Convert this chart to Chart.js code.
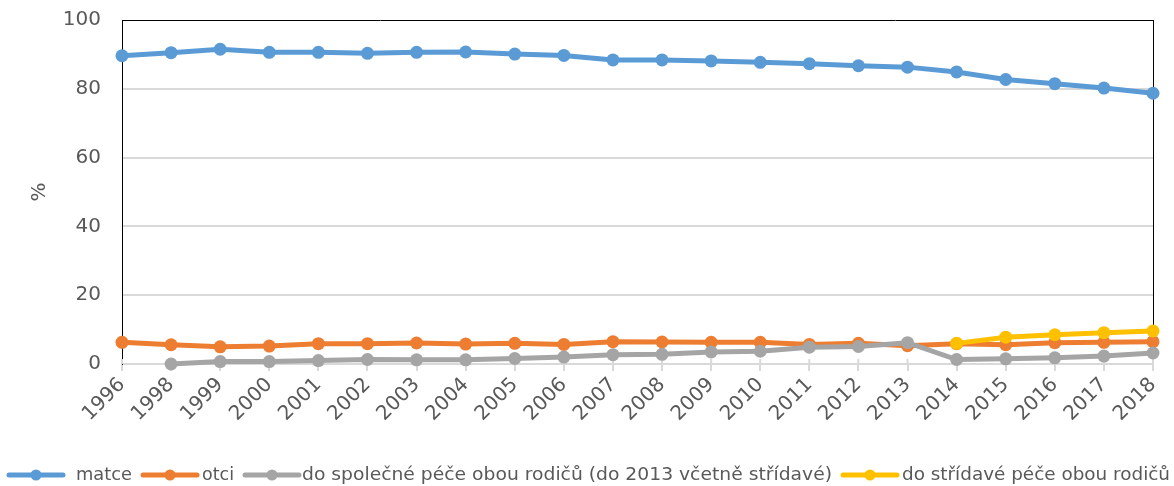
<!DOCTYPE html>
<html>
<head>
<meta charset="utf-8">
<script src="https://cdn.jsdelivr.net/npm/chart.js@4/dist/chart.umd.min.js"></script>
<style>
    html, body { margin: 0; padding: 0; background: #fff; }
    #wrap { width: 1174px; height: 486px; position: relative; }
</style>
</head>
<body>
<div id="wrap"><canvas id="chart"></canvas></div>
<script>
/* ─── Data ──────────────────────────────────────────────────────────────── */

const years = ['1996', '1998', '1999', '2000', '2001', '2002', '2003', '2004', '2005', '2006', '2007',
               '2008', '2009', '2010', '2011', '2012', '2013', '2014', '2015', '2016', '2017', '2018'];

const matce    = [89.6, 90.5, 91.5, 90.6, 90.6, 90.3, 90.6, 90.7, 90.1, 89.7, 88.4,
                  88.4, 88.1, 87.7, 87.3, 86.7, 86.3, 84.9, 82.7, 81.5, 80.2, 78.7];
const otci     = [6.3, 5.6, 5.0, 5.2, 5.9, 5.9, 6.1, 5.8, 6.0, 5.7, 6.5,
                  6.4, 6.3, 6.3, 5.7, 6.0, 5.3, 5.9, 5.6, 6.2, 6.3, 6.5];
const spolecna = [null, 0.0, 0.7, 0.7, 1.0, 1.3, 1.2, 1.2, 1.6, 2.0, 2.7,
                  2.8, 3.5, 3.7, 4.9, 5.1, 6.2, 1.3, 1.5, 1.8, 2.3, 3.2];
const stridava = [null, null, null, null, null, null, null, null, null, null, null,
                  null, null, null, null, null, null, 6.0, 7.8, 8.5, 9.1, 9.6];

const seriesNames = ['matce', 'otci', 'do společné péče obou rodičů (do 2013 včetně střídavé)', 'do střídavé péče obou rodičů'];
const colors = ['#5B9BD5', '#ED7D31', '#A5A5A5', '#FFC000'];

const yMin = 0, yMax = 100, yStep = 20;

/* ─── Helpers ───────────────────────────────────────────────────────────── */

const txt = '#595959';
const grid = '#d9d9d9';
const font = '"DejaVu Sans", Verdana, sans-serif';

function mkDs(i, data, order) {
    return {
        label: seriesNames[i], data, order,
        borderColor: colors[i], backgroundColor: colors[i],
        borderWidth: 5, pointRadius: 6.5, pointBorderWidth: 0,
        tension: 0, clip: false
    };
}

// plot-area frame (right side; left and top come from the scales)
const frame = {
    id: 'frame',
    beforeDatasetsDraw(chart) {
        const { ctx, chartArea: a } = chart;
        ctx.save();
        ctx.strokeStyle = '#000';
        ctx.lineWidth = 1;
        ctx.beginPath();
        ctx.moveTo(a.right + 0.5, a.top);
        ctx.lineTo(a.right + 0.5, a.bottom);
        ctx.stroke();
        // small tick stubs above the zero line, like the original axis
        const x = chart.scales.x;
        ctx.strokeStyle = grid;
        ctx.lineWidth = 2;
        ctx.beginPath();
        x.ticks.forEach((t, i) => {
            const px = x.getPixelForTick(i);
            ctx.moveTo(px, a.bottom - 5);
            ctx.lineTo(px, a.bottom);
        });
        ctx.stroke();
        ctx.restore();
    }
};

// single-row legend, line + dot markers, allowed to run off the right edge
const markX = [9, 143, 245, 843];
const textX = [76, 202, 302, 902];
const textW = [56, 32, 530, 268];

const lineLegend = {
    id: 'lineLegend',
    afterDraw(chart) {
        const ctx = chart.ctx;
        const y = 475;
        ctx.save();
        ctx.font = '18px ' + font;
        ctx.textBaseline = 'middle';
        chart.data.datasets.forEach((ds, i) => {
            const x = markX[i];
            ctx.strokeStyle = ds.borderColor;
            ctx.lineWidth = 5;
            ctx.lineCap = 'round';
            ctx.beginPath();
            ctx.moveTo(x, y);
            ctx.lineTo(x + 54, y);
            ctx.stroke();
            ctx.fillStyle = ds.borderColor;
            ctx.beginPath();
            ctx.arc(x + 27, y, 5.5, 0, Math.PI * 2);
            ctx.fill();
            ctx.fillStyle = txt;
            const k = textW[i] / ctx.measureText(ds.label).width;
            ctx.save();
            ctx.translate(textX[i], y);
            ctx.scale(k, 1);
            ctx.fillText(ds.label, 0, 0);
            ctx.restore();
        });
        ctx.restore();
    }
};

/* ─── Chart ─────────────────────────────────────────────────────────────── */

new Chart(document.getElementById('chart'), {
    type: 'line',
    data: {
        labels: years,
        datasets: [
            mkDs(0, matce, 3),
            mkDs(1, otci, 2),
            mkDs(2, spolecna, 1),
            mkDs(3, stridava, 0)
        ]
    },
    options: {
        responsive: true,
        maintainAspectRatio: false,
        animation: false,
        layout: { padding: { top: 20, right: 21, left: 0, bottom: 0 } },
        plugins: { legend: { display: false }, tooltip: { enabled: false } },
        scales: {
            x: {
                offset: false,
                afterFit: s => { s.height = 122; },
                grid: { drawOnChartArea: false, color: grid, lineWidth: 2, tickLength: 7 },
                border: { color: grid, width: 2 },
                ticks: { color: txt, font: { size: 20, family: font }, autoSkip: false,
                         minRotation: 45, maxRotation: 45, padding: 2 }
            },
            y: {
                min: yMin, max: yMax,
                afterFit: s => { s.width = 122; },
                grid: {
                    tickLength: 21,
                    tickColor: 'rgba(0,0,0,0)',
                    color: c => c.tick && c.tick.value === yMax ? '#000' : grid,
                    lineWidth: c => c.tick && c.tick.value === yMax ? 1 : 2
                },
                border: { color: '#000', width: 1 },
                ticks: { stepSize: yStep, color: txt, font: { size: 20, family: font }, padding: 0 },
                title: { display: true, text: '%', color: txt, font: { size: 20, family: font },
                         padding: { top: 28, bottom: 0 } }
            }
        }
    },
    plugins: [frame, lineLegend]
});
</script>
</body>
</html>
